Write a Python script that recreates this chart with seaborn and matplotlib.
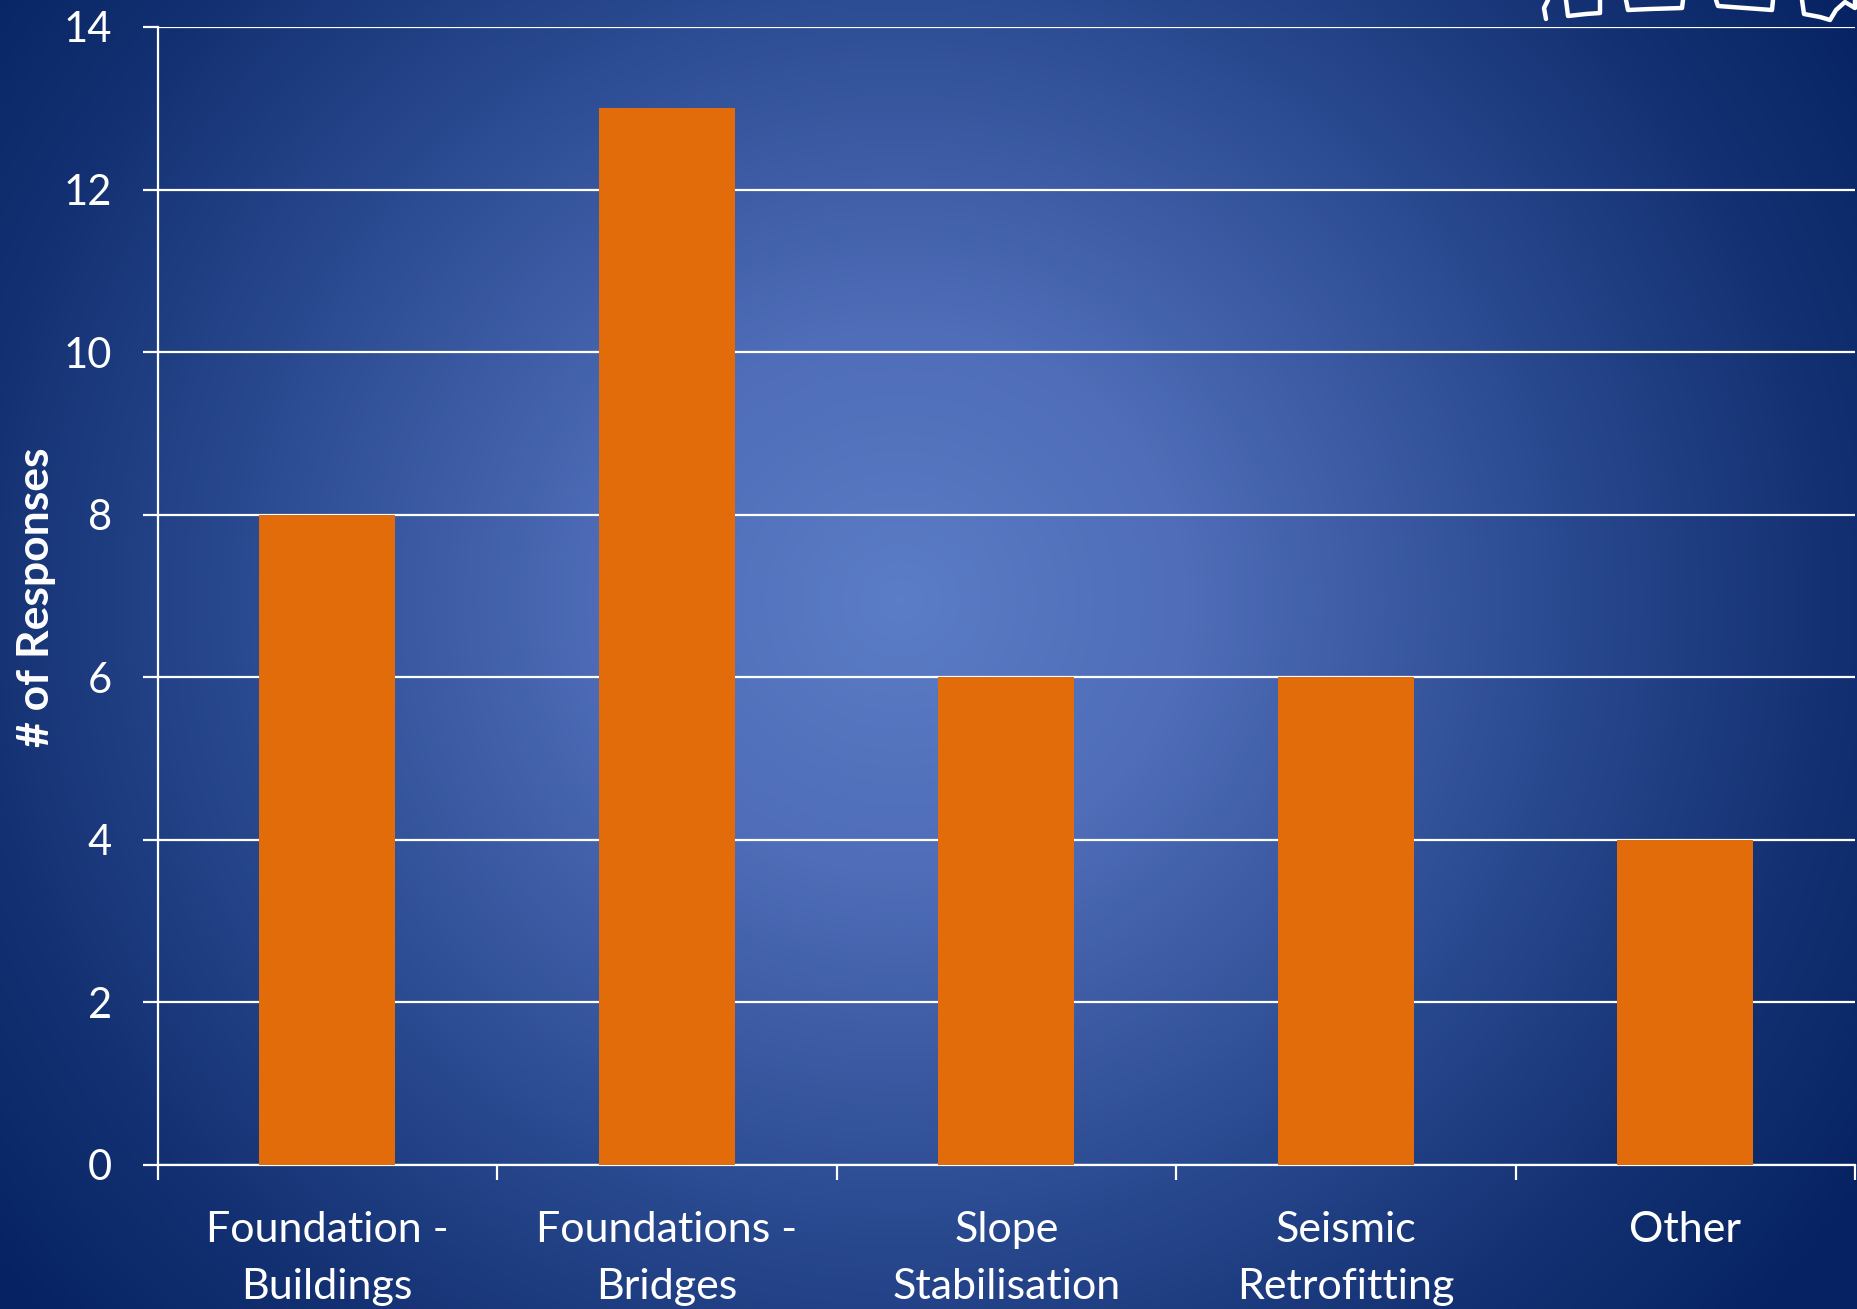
import numpy as np
import matplotlib
matplotlib.use("Agg")
import matplotlib.pyplot as plt
import seaborn as sns
from matplotlib.colors import LinearSegmentedColormap
from matplotlib.lines import Line2D

# Survey results
categories = ["Foundation -\nBuildings", "Foundations -\nBridges", "Slope\nStabilisation",
              "Seismic\nRetrofitting", "Other"]
responses = [8, 13, 6, 6, 4]
y_ticks = [0, 2, 4, 6, 8, 10, 12, 14]

BAR_COLOR = "#E36C0A"
W, H = 1857, 1309

sns.set_theme(style="white")
plt.rcParams["font.family"] = ["Lato", "DejaVu Sans"]

fig = plt.figure(figsize=(W / 100, H / 100), dpi=100)

# Radial blue backdrop
bg = fig.add_axes([0, 0, 1, 1], zorder=-10)
yy, xx = np.mgrid[0:H, 0:W]
cx, cy = 900, 600
r = np.sqrt(((xx - cx) / 1.0) ** 2 + ((yy - cy) / 0.95) ** 2)
r = np.clip(r / 1150.0, 0, 1)
cmap = LinearSegmentedColormap.from_list(
    "slide", [(0.0, "#5B7CC6"), (0.25, "#4F6DB8"), (0.55, "#2C4C93"),
              (0.8, "#143273"), (1.0, "#062262")])
bg.imshow(r, cmap=cmap, vmin=0, vmax=1, aspect="auto", interpolation="bilinear")
bg.set_axis_off()

# Decorative outline marks in the top-right corner
deco = fig.add_axes([0, 0, 1, 1], zorder=-5)
deco.set_xlim(0, W)
deco.set_ylim(H, 0)
deco.set_axis_off()
deco.patch.set_alpha(0)
paths = [
    [(1548, 0), (1544, 8), (1546, 19)],
    [(1566, 0), (1568, 16), (1586, 14), (1600, 13), (1600, 0)],
    [(1626, 0), (1628, 10), (1650, 9), (1682, 8), (1683, 0)],
    [(1716, 0), (1718, 6), (1745, 8), (1772, 10), (1773, 0)],
    [(1802, 0), (1804, 14), (1820, 17), (1830, 20), (1836, 10), (1845, 2), (1855, 8), (1855, 0)],
]
for p in paths:
    xs, ys = zip(*p)
    deco.add_line(Line2D(xs, ys, color="white", lw=3.2, solid_capstyle="round",
                         solid_joinstyle="round"))

# Main chart
left, right = 157.5 / W, 1855 / W
top, bottom = 27 / H, 1165 / H
ax = fig.add_axes([left, 1 - bottom, right - left, bottom - top])
ax.patch.set_alpha(0)

sns.barplot(x=categories, y=responses, color=BAR_COLOR, saturation=1, width=0.4,
            edgecolor="none", linewidth=0, ax=ax, zorder=3)

ax.set_xlim(-0.5, len(categories) - 0.5)
ax.set_ylim(0, 14)
ax.set_yticks(y_ticks)
ax.set_yticklabels([str(v) for v in y_ticks])

ax.grid(axis="y", color="white", lw=1.6, zorder=0)
ax.set_axisbelow(True)
for s in ["top", "right"]:
    ax.spines[s].set_visible(False)
for s in ["left", "bottom"]:
    ax.spines[s].set_color("white")
    ax.spines[s].set_linewidth(1.6)

# Category boundary ticks below the axis
ax.set_xticks(np.arange(-0.5, len(categories)), minor=True)
ax.tick_params(axis="x", which="minor", bottom=True, length=11, width=1.6, color="white",
               direction="out")
ax.tick_params(axis="x", which="major", bottom=True, length=0, pad=33, labelsize=31,
               labelcolor="white")
ax.tick_params(axis="y", which="major", left=True, length=11, width=1.6, color="white",
               direction="out", pad=22, labelsize=30, labelcolor="white")
for lab in ax.get_xticklabels():
    lab.set_linespacing(1.62)

ax.set_xlabel("")
ax.set_ylabel("# of Responses", color="white", fontsize=32, fontweight="bold")
ax.yaxis.set_label_coords((56 - 157.5) / (1855 - 157.5),
                          0.5 + (597 - (27 + 1165) / 2) / -(1165 - 27))

fig.savefig("out.png", dpi=100)
